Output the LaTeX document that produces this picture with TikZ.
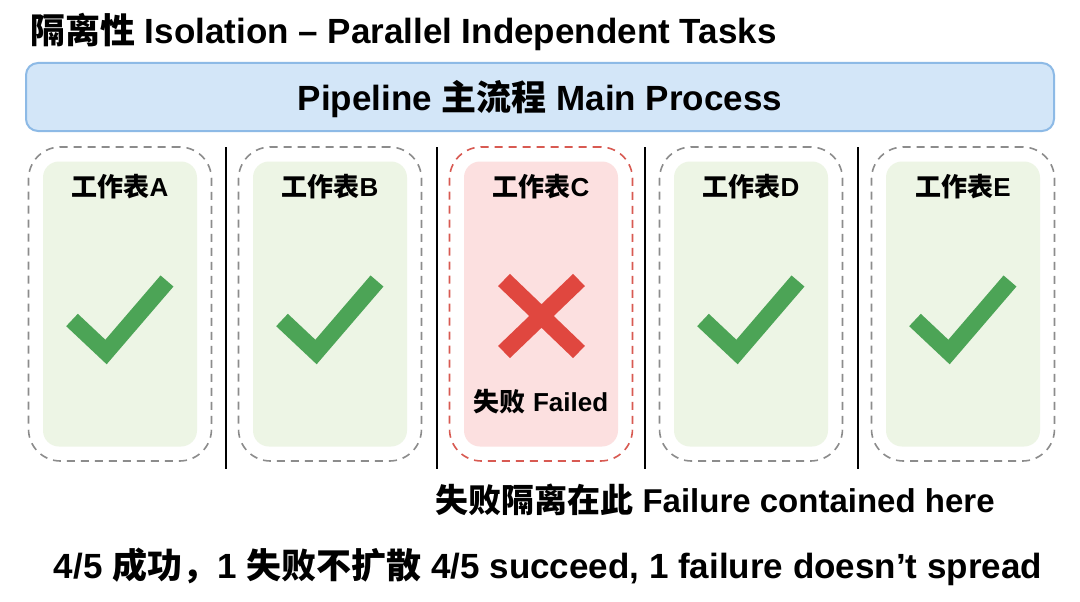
\documentclass[tikz,border=0pt]{standalone}
\usepackage{fontspec}
\setmainfont{Liberation Sans}
\newfontfamily\cjk{Noto Sans CJK SC}
\definecolor{pipefill}{HTML}{D3E6F8}
\definecolor{pipeborder}{HTML}{8DBAE6}
\definecolor{greenfill}{HTML}{EDF5E5}
\definecolor{checkgreen}{HTML}{4CA456}
\definecolor{redfill}{HTML}{FCE0E0}
\definecolor{crossred}{HTML}{E0473F}
\definecolor{reddash}{HTML}{D85A52}
\definecolor{dashgray}{HTML}{8C8C8C}
\begin{document}
\begin{tikzpicture}[x=1pt,y=-1pt,
  outerbox/.style={draw=dashgray, dash pattern=on 8pt off 6pt, line width=1.6pt, rounded corners=32pt, minimum width=183pt, minimum height=314pt, inner sep=0pt},
  innerbox/.style={fill=greenfill, rounded corners=16pt, minimum width=154pt, minimum height=285pt, inner sep=0pt},
  cardtitle/.style={font=\bfseries\fontsize{26}{28}\selectfont, inner sep=0pt},
  checkmark/.style={draw=checkgreen, line width=17pt, line join=miter, line cap=butt},
  crossmark/.style={draw=crossred, line width=17pt, line cap=butt},
  divider/.style={draw=black, line width=1.6pt},
  bigtext/.style={font=\bfseries\fontsize{35}{37}\selectfont, inner sep=0pt}
]
\useasboundingbox[fill=white] (0,0) rectangle (1080,602);

% title
\node[bigtext, anchor=west] (title) at (30,32) {{\cjk 隔离性} Isolation – Parallel Independent Tasks};

% pipeline bar
\node[draw=pipeborder, fill=pipefill, line width=2pt, rounded corners=12pt, minimum width=1028pt, minimum height=68pt, inner sep=0pt] (pipe) at (540,97) {};
\node[bigtext] (pipetext) at (540,99) {Pipeline {\cjk 主流程} Main Process};

% dividers
\coordinate (d1t) at (226,147); \coordinate (d1b) at (226,469);
\coordinate (d2t) at (437,147); \coordinate (d2b) at (437,469);
\coordinate (d3t) at (645,147); \coordinate (d3b) at (645,469);
\coordinate (d4t) at (858,147); \coordinate (d4b) at (858,469);
\draw[divider] (d1t) -- (d1b);
\draw[divider] (d2t) -- (d2b);
\draw[divider] (d3t) -- (d3b);
\draw[divider] (d4t) -- (d4b);

% cards
\foreach \cx/\nm in {120/A, 330/B, 751/D, 963/E} {
  \node[innerbox] (in\nm) at (\cx,304) {};
  \node[outerbox] (out\nm) at (\cx,304) {};
  \node[cardtitle] (t\nm) at (\cx,187) {{\cjk 工作表}\nm};
  \begin{scope}[shift={(\cx,0)}]
    \draw[checkmark] (-48,320) -- (-14,352) -- (47,281);
  \end{scope}
}

% failed card C
\node[innerbox, fill=redfill] (inC) at (541,304) {};
\node[outerbox, draw=reddash] (outC) at (541,304) {};
\node[cardtitle] (tC) at (541,187) {{\cjk 工作表}C};
\draw[crossmark] (504,280) -- (579,352);
\draw[crossmark] (579,280) -- (504,352);
\node[cardtitle] (failed) at (541,402) {{\cjk 失败} Failed};

% bottom texts
\node[bigtext, font=\bfseries\fontsize{33}{35}\selectfont] (contained) at (715,500) {{\cjk 失败隔离在此} Failure contained here};
\node[bigtext] (summary) at (548,567) {4/5 {\cjk 成功，}1 {\cjk 失败不扩散} 4/5 succeed, 1 failure doesn’t spread};
\end{tikzpicture}
\end{document}
